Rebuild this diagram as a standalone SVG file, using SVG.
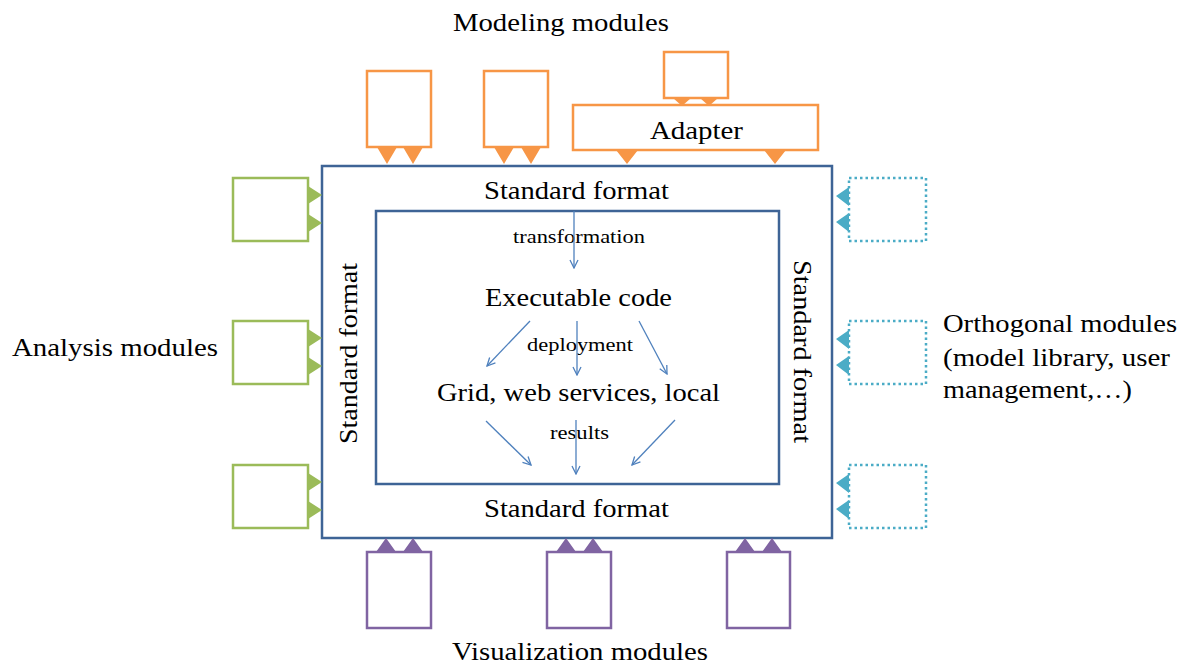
<svg xmlns="http://www.w3.org/2000/svg" width="1186" height="666" viewBox="0 0 1186 666">
<defs>
<style>
.t{font-family:"Liberation Serif","Times New Roman",serif;fill:#000}
.big{font-size:25px}
.sm{font-size:19px}
.frame{fill:none;stroke:#3e6496;stroke-width:2.5}
.or{fill:#fff;stroke:#f79646;stroke-width:2.5}
.orf{fill:#f79646}
.gr{fill:#fff;stroke:#9bbb59;stroke-width:2.5}
.grf{fill:#9bbb59}
.pu{fill:#fff;stroke:#8064a2;stroke-width:2.5}
.puf{fill:#8064a2}
.cy{fill:#fff;stroke:#4bacc6;stroke-width:2.5;stroke-dasharray:2.5 3}
.cyf{fill:#4bacc6}
.ar{stroke:#4f81bd;stroke-width:1.3;fill:none;marker-end:url(#v)}
</style>
<marker id="v" viewBox="0 0 10 10" refX="9" refY="5" markerWidth="10" markerHeight="10" markerUnits="userSpaceOnUse" orient="auto">
<path d="M1,1 L9,5 L1,9" fill="none" stroke="#4f81bd" stroke-width="1.3"/>
</marker>
</defs>
<rect width="1186" height="666" fill="#fff"/>

<text class="t big" x="453" y="31" textLength="216" lengthAdjust="spacingAndGlyphs">Modeling modules</text>
<text class="t big" x="12" y="356" textLength="206" lengthAdjust="spacingAndGlyphs">Analysis modules</text>
<text class="t big" x="452" y="660" textLength="256" lengthAdjust="spacingAndGlyphs">Visualization modules</text>
<g id="orth-label">
<text class="t big" x="943" y="332" textLength="234" lengthAdjust="spacingAndGlyphs">Orthogonal modules</text>
<text class="t big" x="943" y="366" textLength="227" lengthAdjust="spacingAndGlyphs">(model library, user</text>
<text class="t big" x="943" y="398" textLength="189" lengthAdjust="spacingAndGlyphs">management,…)</text>
</g>

<g id="outer">
<rect class="frame" x="322" y="166" width="510" height="372"/>
<text class="t big" x="484" y="199" textLength="185" lengthAdjust="spacingAndGlyphs">Standard format</text>
<text class="t big" x="484" y="517" textLength="185" lengthAdjust="spacingAndGlyphs">Standard format</text>
<text class="t big" transform="translate(357,444) rotate(-90)" textLength="181" lengthAdjust="spacingAndGlyphs">Standard format</text>
<text class="t big" transform="translate(794,260) rotate(90)" textLength="183" lengthAdjust="spacingAndGlyphs">Standard format</text>
</g>
<g id="inner">
<rect class="frame" x="376" y="211" width="403" height="273"/>
<text class="t sm" x="513" y="243" textLength="132" lengthAdjust="spacingAndGlyphs">transformation</text>
<text class="t big" x="485" y="306" textLength="187" lengthAdjust="spacingAndGlyphs">Executable code</text>
<text class="t sm" x="527" y="351" textLength="106" lengthAdjust="spacingAndGlyphs">deployment</text>
<text class="t big" x="437" y="401" textLength="283" lengthAdjust="spacingAndGlyphs">Grid, web services, local</text>
<text class="t sm" x="550" y="439" textLength="59" lengthAdjust="spacingAndGlyphs">results</text>
</g>

<g id="connectors">
<line class="ar" x1="574" y1="211" x2="574" y2="268"/>
<line class="ar" x1="530" y1="321" x2="487" y2="366"/>
<line class="ar" x1="577" y1="321" x2="577" y2="375"/>
<line class="ar" x1="639" y1="321" x2="667" y2="374"/>
<line class="ar" x1="486" y1="421" x2="531" y2="465"/>
<line class="ar" x1="576" y1="420" x2="576" y2="474"/>
<line class="ar" x1="675" y1="420" x2="632" y2="465"/>
</g>

<g id="model1">
<rect class="or" x="367" y="71" width="64" height="76"/>
<path class="orf" d="M377,147 L397,147 L387,164 Z M403,147 L423,147 L413,164 Z"/>
</g>
<g id="model2">
<rect class="or" x="484" y="71" width="64" height="76"/>
<path class="orf" d="M494,147 L514,147 L504,164 Z M521,147 L541,147 L531,164 Z"/>
</g>
<g id="model3">
<rect class="or" x="664" y="52" width="64" height="46"/>
<path class="orf" d="M673,98 L691,98 L682,106 Z M700,98 L718,98 L709,106 Z"/>
</g>
<g id="adapter">
<rect class="or" x="573" y="105" width="245" height="45"/>
<text class="t big" x="650" y="139" textLength="93" lengthAdjust="spacingAndGlyphs">Adapter</text>
<path class="orf" d="M616,150 L638,150 L627,164 Z M764,150 L786,150 L775,164 Z"/>
</g>

<g id="analysis1">
<rect class="gr" x="233" y="178" width="75" height="63"/>
<path class="grf" d="M308,186 L322,195 L308,204 Z M308,214 L322,223 L308,232 Z"/>
</g>
<g id="analysis2">
<rect class="gr" x="233" y="321" width="75" height="63"/>
<path class="grf" d="M308,329 L322,338 L308,347 Z M308,357 L322,366 L308,375 Z"/>
</g>
<g id="analysis3">
<rect class="gr" x="233" y="465" width="75" height="63"/>
<path class="grf" d="M308,473 L322,482 L308,491 Z M308,501 L322,510 L308,519 Z"/>
</g>

<g id="orth1">
<rect class="cy" x="849" y="178" width="77" height="63"/>
<path class="cyf" d="M849,187 L849,206 L836,196 Z M849,213 L849,232 L836,222 Z"/>
</g>
<g id="orth2">
<rect class="cy" x="849" y="321" width="77" height="63"/>
<path class="cyf" d="M849,330 L849,349 L836,339 Z M849,356 L849,375 L836,365 Z"/>
</g>
<g id="orth3">
<rect class="cy" x="849" y="465" width="77" height="63"/>
<path class="cyf" d="M849,474 L849,493 L836,483 Z M849,500 L849,519 L836,509 Z"/>
</g>

<g id="vis1">
<rect class="pu" x="367" y="552" width="64" height="76"/>
<path class="puf" d="M376,552 L396,552 L386,538 Z M403,552 L423,552 L413,538 Z"/>
</g>
<g id="vis2">
<rect class="pu" x="547" y="552" width="64" height="76"/>
<path class="puf" d="M556,552 L576,552 L566,538 Z M583,552 L603,552 L593,538 Z"/>
</g>
<g id="vis3">
<rect class="pu" x="727" y="552" width="63" height="76"/>
<path class="puf" d="M735,552 L755,552 L745,538 Z M762,552 L782,552 L772,538 Z"/>
</g>
</svg>
